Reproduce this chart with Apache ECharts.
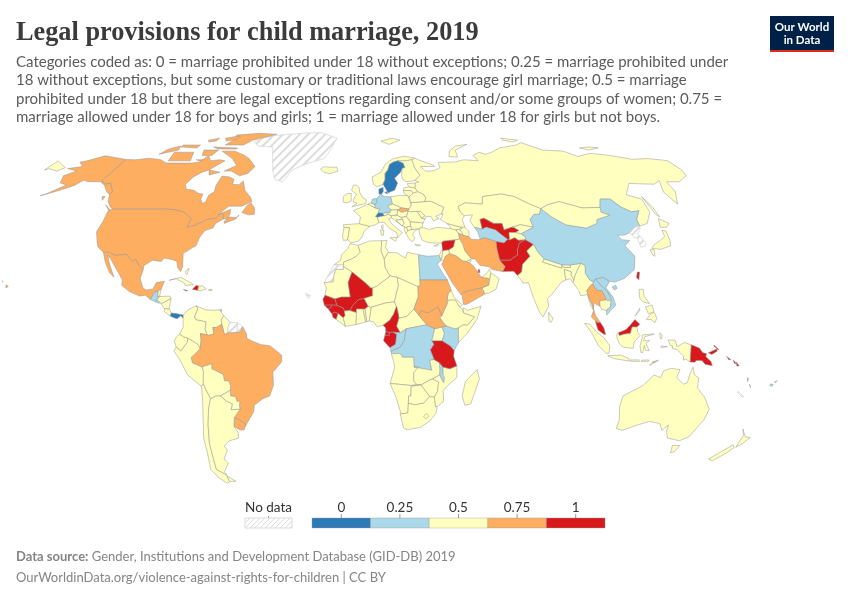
<![CDATA[<!DOCTYPE html>
<html>
<head>
<meta charset="utf-8">
<title>Legal provisions for child marriage, 2019</title>
<script src="https://cdn.jsdelivr.net/npm/echarts@6/dist/echarts.min.js"></script>
<style>
    body { margin: 0; padding: 0; background: #fff; }
    #main { width: 850px; height: 600px; }
</style>
</head>
<body>
<div id="main"></div>
<script type="text/javascript">
// coded values read from the map
var codedZero = ['Sweden', 'Denmark', 'Switzerland', 'Panama'];
var codedQuarter = ['Germany', 'Netherlands', 'China', 'Vietnam', 'Laos', 'Egypt', 'Kenya', 'Democratic Republic of Congo', 'Congo', 'Malawi', 'Turkmenistan', 'Guatemala', 'El Salvador', 'Trinidad and Tobago', 'Fiji'];
var codedThreeQuarter = ['Canada', 'United States', 'Mexico', 'Brazil', 'Uruguay', 'Iran', 'Saudi Arabia', 'Yemen', 'Sudan', 'South Sudan', 'Thailand', 'Slovakia', 'Timor-Leste', 'Vanuatu'];
var codedOne = ['Mali', 'Senegal', 'Guinea-Bissau', 'Guinea', 'Sierra Leone', 'Burkina Faso', 'Cameroon', 'Equatorial Guinea', 'Gabon', 'Tanzania', 'Syria', 'Uzbekistan', 'Afghanistan', 'Pakistan', 'Malaysia', 'Papua New Guinea', 'Solomon Islands', 'Haiti', 'Jamaica', 'Taiwan', 'Qatar'];
var noDataCountries = ['Greenland', 'Western Sahara', 'Suriname', 'French Guiana', 'North Korea', 'South Korea', 'New Caledonia', 'Cape Verde'];

var legendValues = ['0', '0.25', '0.5', '0.75', '1'];
var legendColors = ['#2c7bb6', '#abd9e9', '#ffffbf', '#fdae61', '#d7191c'];

// simplified country outlines, flat lon,lat rings
var outlines = {
 'Greenland': [[-73,78.2,-68,76,-58,75.5,-54,70,-51,65,-48,61,-43,60,-40,65,-32,68,-23,70,-20,75,-18,80,-30,83.5,-40,83.4,-60,82,-68,80.5]],
 'Canada': [[-141,69.6,-135,69.5,-128,70.2,-120,69.5,-115,68,-108,68,-100,68,-96,68.5,-94,71.5,-90,69,-85,69.5,-81.5,69,-85,66.5,-87,65,-90,64,-93,62,-94.5,59,-92.5,57,-88,56.5,-85,55.3,-82.3,55,-82,52.9,-80,51.2,-79,52,-79,54.5,-77,56,-78,58.7,-77.5,62.4,-73,62,-70,61,-69.5,59,-66,58.8,-64.5,60.3,-61.5,56.5,-57,53.5,-55.8,52,-60,50.2,-66.5,50.2,-70,47,-65,49,-64.5,47,-65,46,-61,45.8,-60,46.8,-61,45.2,-66,43.5,-66,44.6,-64.5,45.5,-67,45.2,-67.8,47,-69.2,47.4,-70.5,45.5,-74.7,45,-76.5,44,-79,43.3,-79,42.8,-83,42,-82.5,45.3,-84.5,46.5,-88.5,48.2,-95,49,-123,49,-125,50,-128,52,-130,54.7,-130,56,-135,59.5,-137,59,-141,60.3],
  [-59,47.7,-55.5,46.8,-52.7,47,-53.5,49.5,-56,51.5,-57.5,50.5],[-128,50.8,-123.5,48.4,-125,48.8],[-133,54,-131.5,54,-131.5,52.5],
  [-80,73.5,-72,71.5,-68,70,-62,66.5,-64,63.5,-68,62.5,-74,64.5,-78,64.5,-73,67,-78,70,-88,73.5],[-117,73,-105,73,-102,69,-115,69],[-90,76.5,-78,76.5,-75,79,-65,81.5,-62,82.5,-75,83.1,-90,82,-88,79],[-125,72,-116,74,-118,76,-123,74.5],[-96,75.5,-80,75,-80,74.5,-92,74.5],[-117,75.5,-106,75,-106,76.5,-117,76.5],[-100,74,-91,74,-92,71.5,-98,71.5],[-87,65,-80,64,-85,62.8],[-95,80,-87,81.5,-86,79.5,-92,78.5],[-99,69.5,-95,69.5,-96,68.8],[-105,79,-99,80,-99,78.5,-103,78]],
 'United States': [[-124.7,48.4,-123,49,-95,49,-88.5,48.2,-84.5,46.5,-82.5,45.3,-83,42,-79,42.8,-79,43.3,-76.5,44,-74.7,45,-70.5,45.5,-69.2,47.4,-67.8,47,-67,45.2,-70,43.5,-70.5,41.8,-74,40.7,-75.5,38,-76,35,-78,33.9,-81,32,-80,27,-80.5,25.2,-82,26.5,-83,29,-85,29.7,-89,30.3,-90,29,-94,29.5,-97.2,27.5,-97.2,25.9,-99.5,27.5,-101.5,29.8,-103,29,-104.8,30.5,-106.5,31.8,-108.2,31.5,-111,31.3,-114.8,32.5,-117.1,32.5,-120.5,34.5,-122.5,37.5,-124.3,40.3,-124,44],
  [-141,69.6,-148,70.4,-156.5,71.3,-163,69,-166,68.4,-161,66.5,-168,65.6,-161,64.5,-165,62.5,-162,59.5,-157.5,58.7,-163,55,-165,54.3,-158,56.5,-153,58.5,-151,60.7,-148,60,-141,60,-137,58.5,-133,56,-130,54.7,-130,56,-135,59.5,-137,59,-141,60.3],
  [-155.8,20.2,-154.9,19.5,-155.7,18.95,-156,19.8],[-158.2,21.5,-157.7,21.3,-157.9,21.7]],
 'Mexico': [[-117.1,32.5,-114.8,32.5,-111,31.3,-108.2,31.5,-106.5,31.8,-104.8,30.5,-103,29,-101.5,29.8,-99.5,27.5,-97.2,25.9,-97.8,22.5,-96,19,-94.5,18.2,-91.5,18.6,-90.5,21,-87,21.5,-88,18.5,-89.1,17.9,-91,17.2,-91.4,16,-92.2,14.6,-94.5,16.2,-97,15.9,-101.5,17.5,-105.5,20,-105.5,22,-109,26,-112.8,30,-114.7,31.5,-113,28.5,-110,24,-109.5,23,-112,25,-115,29]],
 'Guatemala': [[-92.2,14.6,-91.4,16,-91,17.2,-89.1,17.9,-89.2,15.9,-88.3,15.7,-89.3,14.4,-90.1,13.8]],
 'Belize': [[-89.1,17.9,-88,18.5,-88.3,15.9,-89.2,15.9]],
 'El Salvador': [[-90.1,13.8,-89.3,14.4,-87.6,13.4,-88.5,13.2]],
 'Honduras': [[-89.3,14.4,-88.3,15.7,-84,15.9,-83.2,15,-85,14,-87.3,13,-87.6,13.4]],
 'Nicaragua': [[-87.3,13,-85,14,-83.2,15,-83.7,11,-85.7,11.1]],
 'Costa Rica': [[-85.7,11.1,-83.7,11,-82.6,9.5,-83,8.3,-85.7,10]],
 'Panama': [[-83,8.3,-82.6,9.5,-80,9.2,-77.4,8.7,-77.4,7.5,-78.5,8.4,-80,7.3,-81.5,7.7]],
 'Cuba': [[-85,21.9,-80,23,-75,20.8,-74.2,20.2,-77.7,19.9,-78,20.7,-82,22.5]],
 'Haiti': [[-74.4,18.4,-72,18.1,-71.7,19.7,-73,19.9]],
 'Dominican Republic': [[-71.7,19.7,-72,18.1,-71,17.8,-68.4,18.6,-70,19.8]],
 'Jamaica': [[-78.3,18.4,-76.3,18,-77,17.8]],
 'Puerto Rico': [[-67.2,18.5,-65.7,18.4,-65.8,18,-67.2,18]],
 'Bahamas': [[-78.5,25,-77,26.5,-77.5,24]],
 'Trinidad and Tobago': [[-61.9,10.7,-61,10.8,-61,10.1,-61.9,10.1]],
 'Iceland': [[-24,65.5,-22,64,-18.5,63.4,-14,64.5,-15,66.2,-19,66.2,-22.5,66.4]],
 'Colombia': [[-77.4,8.7,-75.5,10.7,-72,12.2,-71.3,11,-72.5,8,-72,7,-67.5,6.2,-67.8,3.5,-67,1.2,-69.8,1.7,-69.5,-1,-70,-4.2,-70.8,-2.5,-73.5,-1,-75.2,-0.1,-77,0.4,-78.8,1.4,-77.3,4,-77.4,7.5]],
 'Venezuela': [[-72,12.2,-68,10.7,-64,10.5,-62,10.7,-60,8.5,-61,6.9,-60.7,5.2,-62.9,4,-64.5,4,-64,1.5,-66,1,-67,1.2,-67.8,3.5,-67.5,6.2,-72,7,-72.5,8,-71.3,11]],
 'Guyana': [[-60,8.5,-57.2,6,-58,4,-58,2,-59.5,1.2,-60,3,-60.7,5.2,-61,6.9]],
 'Suriname': [[-57.2,6,-54,5.8,-54,2.2,-56,2,-58,2,-58,4]],
 'French Guiana': [[-54,5.8,-51.7,4.3,-52.8,2.3,-54,2.2]],
 'Brazil': [[-51.7,4.3,-50,1.5,-50,0,-48,-1,-44,-2.5,-40,-2.9,-37,-5,-35,-6.5,-35,-9,-39,-13,-39,-18,-41,-22,-44,-23,-48,-25.5,-48.6,-28,-52,-32,-53.5,-33.7,-53.2,-32.5,-55.8,-30.9,-57.6,-30.2,-54.5,-27,-54.6,-25.6,-54.2,-24,-55.5,-24,-56,-22.2,-58,-22,-58,-19.8,-57.7,-18,-58.3,-16.3,-60.2,-16.2,-60.5,-13.8,-65.3,-11.7,-65.3,-9.8,-69.5,-11,-73.5,-9.5,-74,-7.4,-70,-4.2,-69.5,-1,-69.8,1.7,-67,1.2,-66,1,-64,1.5,-64.5,4,-62.9,4,-60.7,5.2,-60,3,-59.5,1.2,-58,2,-56,2,-54,2.2,-52.8,2.3]],
 'Uruguay': [[-53.5,-33.7,-53.2,-32.5,-55.8,-30.9,-57.6,-30.2,-58.4,-33.5,-56,-34.9,-54,-34.8]],
 'Ecuador': [[-78.8,1.4,-77,0.4,-75.2,-0.1,-75.4,-1.6,-78.3,-5,-80.3,-3.4,-81,-1,-80,0.5]],
 'Peru': [[-80.3,-3.4,-78.3,-5,-75.4,-1.6,-75.2,-0.1,-73.5,-1,-70.8,-2.5,-70,-4.2,-74,-7.4,-73.5,-9.5,-69.5,-11,-69,-12.5,-69.5,-17.5,-70.4,-18.3,-76,-14,-79,-8,-81.3,-5]],
 'Bolivia': [[-69.5,-11,-65.3,-9.8,-65.3,-11.7,-60.5,-13.8,-60.2,-16.2,-58.3,-16.3,-57.7,-18,-58,-19.8,-62.6,-22,-64.5,-22,-67,-23,-68.5,-20,-69.5,-17.5,-69,-12.5]],
 'Paraguay': [[-58,-19.8,-58,-22,-56,-22.2,-55.5,-24,-54.2,-24,-54.6,-25.6,-54.5,-27,-58.5,-27.2,-57.7,-25,-60,-24,-62.6,-22]],
 'Chile': [[-70.4,-18.3,-69.5,-17.5,-68.5,-20,-67,-23,-68.5,-27,-70,-33,-71.5,-40,-72,-46,-72.5,-50,-69,-52,-68.5,-52.7,-68.5,-54.9,-70,-55.5,-73,-53.5,-75.3,-50,-74,-44,-73.5,-38,-71.5,-30,-70.5,-23]],
 'Argentina': [[-67,-23,-64.5,-22,-62.6,-22,-60,-24,-57.7,-25,-58.5,-27.2,-54.5,-27,-57.6,-30.2,-58.4,-33.5,-57,-36,-57.5,-38,-62,-39,-65,-41,-64,-42.5,-67,-46,-65.5,-47.5,-69,-51,-68.5,-52.4,-69,-52,-72.5,-50,-72,-46,-71.5,-40,-70,-33,-68.5,-27],[-68.5,-52.7,-65.2,-54.7,-68.5,-54.9]],
 'Morocco': [[-5.9,35.8,-2.2,35.1,-1.2,32.5,-3,31,-5,30,-8.7,28.7,-8.7,27.7,-13,27.7,-10,29.5,-9.7,31.5,-6.8,34]],
 'Western Sahara': [[-8.7,27.7,-13,27.7,-17,21,-13,21.3,-13,23,-12,26,-8.7,26]],
 'Algeria': [[-2.2,35.1,3,36.8,8.6,36.9,8.2,33,9.5,30,9.9,26.5,12,23.5,5.8,19.5,4.2,19,3.3,19,1.2,20.8,-4.8,25,-8.7,27.1,-8.7,28.7,-5,30,-3,31,-1.2,32.5]],
 'Tunisia': [[8.6,36.9,11,37,10.2,34.3,11.5,32.5,9.5,30,8.2,33]],
 'Libya': [[11.5,32.5,15.2,32.3,19,30.3,20,32.5,25,31.6,25,20,24,19.5,15,23,12,23.5,9.9,26.5,9.5,30]],
 'Egypt': [[25,31.6,29,31,32.5,31.2,34.2,31.3,34.9,29.5,33,28,35.5,24,37,22,25,22]],
 'Mauritania': [[-17,21,-13,21.3,-13,23,-12,26,-8.7,26,-8.7,27.1,-4.8,25,-6.5,21,-5.5,15.5,-9.3,15.5,-12.2,14.8,-16.5,16.2,-16,19]],
 'Mali': [[-4.8,25,1.2,20.8,3.3,19,4.2,19,4.2,16,0.5,15,-2,14.5,-4.5,12.3,-5.5,10.4,-8,10.2,-8.5,11.3,-11.3,12.4,-12.2,14.8,-9.3,15.5,-5.5,15.5,-6.5,21]],
 'Senegal': [[-16.5,16.2,-12.2,14.8,-11.3,12.4,-13.7,12.5,-16.7,12.4,-17.4,14.7]],
 'Guinea-Bissau': [[-16.7,12.4,-13.7,12.5,-13.7,11.7,-15,11]],
 'Guinea': [[-13.7,12.5,-11.3,12.4,-8.5,11.3,-8,10.2,-7.7,8.5,-8.5,7.6,-10.7,9.3,-12.5,9.9,-13.3,9,-15,11,-13.7,11.7]],
 'Sierra Leone': [[-13.3,9,-12.5,9.9,-10.7,9.3,-11.5,7,-13,7.9]],
 'Liberia': [[-11.5,7,-10.7,9.3,-8.5,7.6,-7.5,4.4]],
 "Cote d'Ivoire": [[-8.5,7.6,-7.7,8.5,-8,10.2,-5.5,10.4,-2.8,9.7,-3,5.1,-7.5,4.4]],
 'Burkina Faso': [[-5.5,10.4,-4.5,12.3,-2,14.5,0.5,15,2.3,12,0.9,11,0,11,-2.8,11,-2.8,9.7]],
 'Ghana': [[-2.8,11,0,11,1.2,6.1,-3,5.1,-2.8,9.7]],
 'Togo': [[0,11,0.9,11,1.7,6.2,1.2,6.1]],
 'Benin': [[0.9,11,2.3,12,3.6,11.7,2.7,6.4,1.7,6.2]],
 'Niger': [[4.2,19,5.8,19.5,12,23.5,15,23,15.5,20,13.6,13.7,10,13.3,3.6,11.7,2.3,12,0.5,15,4.2,16]],
 'Nigeria': [[2.7,6.4,3.6,11.7,10,13.3,13.6,13.7,14.5,12,13.2,9,11.5,6.7,8.6,4.8,6,4.3,4.5,6.2]],
 'Chad': [[15,23,24,19.5,24,15.7,22,11,18.9,8.2,15.5,7.5,15,10,14.5,12,13.6,13.7,15.5,20]],
 'Cameroon': [[8.6,4.8,11.5,6.7,13.2,9,14.5,12,15,10,15.5,7.5,14.5,4.5,16.1,2,13,2.2,11.3,2.2,9.8,2.3,9.7,3.9]],
 'Central African Republic': [[14.5,4.5,15.5,7.5,18.9,8.2,22,11,24,8.7,27.4,5,22.5,4.2,18.6,3.5,16.1,2]],
 'Equatorial Guinea': [[9.8,2.3,11.3,2.2,11.3,1,9.4,1]],
 'Gabon': [[9.4,1,11.3,1,11.3,2.2,13,2.2,14.5,1.4,14,-2.4,11.6,-3.7,8.8,-1]],
 'Congo': [[13,2.2,16.1,2,18.6,3.5,17.7,-1,16,-3.5,12,-5,11.6,-3.7,14,-2.4,14.5,1.4]],
 'Democratic Republic of Congo': [[18.6,3.5,22.5,4.2,27.4,5,30.8,3.5,29.6,-1,30.5,-2.4,29,-4.5,30.7,-8.2,28.7,-8.5,29.8,-12.2,27,-11.8,22,-11,21.8,-7.3,17,-7.3,16,-5.9,12.2,-6,12,-5,16,-3.5,17.7,-1]],
 'Angola': [[12.2,-6,16,-5.9,17,-7.3,21.8,-7.3,22,-11,24,-11,22,-13,22,-16.2,23.4,-17.6,21,-18,13.9,-17.4,11.8,-17.3,13.7,-11,13.2,-9]],
 'Zambia': [[22,-11,27,-11.8,29.8,-12.2,28.7,-8.5,30.7,-8.2,33,-9.4,33.3,-12,33.2,-14,30.2,-15.5,28.8,-16,25.3,-17.8,23.4,-17.6,22,-16.2,22,-13,24,-11]],
 'Namibia': [[11.8,-17.3,13.9,-17.4,21,-18,25.3,-17.8,21,-18.3,21,-22,20,-22,20,-28.4,17,-28.8,14.5,-22.5]],
 'Botswana': [[21,-18.3,25.3,-17.8,29.3,-22.2,26.8,-24.7,23,-25.3,20,-24.8,20,-22,21,-22]],
 'Zimbabwe': [[25.3,-17.8,28.8,-16,30.2,-15.5,32.9,-16.7,32.5,-20.5,31.3,-22.4,29.3,-22.2]],
 'Malawi': [[33,-9.4,34.5,-11,34.7,-14,35.3,-15,35.2,-17,34.3,-16,33.2,-14,33.3,-12]],
 'Mozambique': [[40.5,-10.5,40.7,-15,36.9,-18,35,-20,35.5,-24,32.8,-26,32,-26,31.3,-22.4,32.5,-20.5,32.9,-16.7,30.2,-15.5,33.2,-14,34.3,-16,35.2,-17,35.3,-15,34.7,-14,34.5,-11,37.5,-11.7]],
 'South Africa': [[16.5,-28.7,17,-28.8,20,-28.4,20,-24.8,23,-25.3,26.8,-24.7,29.3,-22.2,31.3,-22.4,32,-26,32.8,-26,32.5,-28.5,30,-31.5,26,-33.9,20,-34.8,18.3,-34,17,-30]],
 'Lesotho': [[27,-29.6,28.5,-28.6,29.4,-29.7,28,-30.6]],
 'Tanzania': [[29.6,-1,34,-1,37.6,-3,39.2,-4.7,39,-7,40.5,-10.5,37.5,-11.7,34.5,-11,33,-9.4,30.7,-8.2,29,-4.5,30.5,-2.4]],
 'Uganda': [[30.8,3.5,34,4.2,35,1.7,34,-1,29.6,-1]],
 'Kenya': [[34,4.2,36,4.5,39.5,3.5,41,3.9,41,-1.7,39.2,-4.7,37.6,-3,34,-1,35,1.7]],
 'Somalia': [[41,-1.7,41,3.9,43,5,45,5,48,8,43.3,9.5,43.2,11.5,45,10.5,51,12,49,7,45,2]],
 'Ethiopia': [[36,4.5,39.5,3.5,41,3.9,43,5,45,5,48,8,43.3,9.5,42.8,11,41.7,11.8,40,14.5,37,14.4,36.4,13,35,10.5,34,8.5,33,7.8,35,5.2]],
 'Eritrea': [[36.4,14,37,14.4,40,14.5,41.7,11.8,43,12.5,39.5,15.5,38.5,18,37,17]],
 'South Sudan': [[24,8.7,27.4,5,30.8,3.5,34,4.2,36,4.5,35,5.2,33,7.8,34,8.5,33,10.5,32.5,12,28,9.5,25,10.5]],
 'Sudan': [[24,19.5,25,20,25,22,37,22,38.5,18,37,17,36.4,14,36.4,13,35,10.5,34,8.5,33,10.5,32.5,12,28,9.5,25,10.5,24,8.7,22,11,24,15.7]],
 'Madagascar': [[49.3,-12,50.5,-15.5,47.5,-25,45,-25.5,43.5,-22,44.5,-16.5]],
 'Cape Verde': [[-25,17,-24.5,16,-23.5,15,-22.7,16]],
 'Portugal': [[-9,41.9,-6.3,41.9,-7,37.2,-9,37,-9.5,38.7]],
 'Spain': [[-9.3,43,-1.8,43.4,3.2,42.4,0.5,40.5,-0.3,38.5,-2,36.8,-5.5,36,-7,37.2,-6.3,41.9,-9,41.9]],
 'France': [[-1.8,43.4,3.2,42.4,6,43,7.5,43.8,7,45.9,6.1,46.2,7.5,47.6,8.2,49,6,49.5,2.5,51,-1.5,49.5,-4.7,48.5,-1.2,46],[8.6,42.5,9.5,43,9.4,41.4,8.8,41.6]],
 'Switzerland': [[6.1,46.2,7,45.9,10.4,46.5,9.6,47.5,7.5,47.6]],
 'Italy': [[7,45.9,7.5,43.8,10,44,12.5,41.5,15.7,40,16,38,17,39,18.5,40,16,41.5,13.5,43.5,12.3,45.3,13.7,45.6,13.7,46.5,12.2,47,10.4,46.5],[12.5,38,15.6,38.2,15,36.7],[8.2,41,9.7,41,9.5,39,8.5,39]],
 'United Kingdom': [[-5.5,50,1.3,51.2,1.7,52.7,0,53.5,-1.8,55.8,-2,57.6,-3.5,58.6,-5,58.6,-6,56.5,-3.3,54.9,-4.5,53.3,-5,51.8,-3,51.4]],
 'Ireland': [[-6,52.2,-6,54,-6,55.2,-8.2,55.2,-10,54,-10,51.8,-8,51.5]],
 'Belgium': [[2.5,51,4,51.4,6,50.8,6,49.5]],
 'Netherlands': [[4,51.4,4.8,53,7,53.3,7,51.8,6,50.8]],
 'Germany': [[7,53.3,9,54.9,11,54,14.2,53.9,14.7,51,12.2,50.3,13.8,48.7,13,47.5,9.6,47.5,7.5,47.6,8.2,49,6,49.5,6,50.8,7,51.8]],
 'Denmark': [[8.2,55,8.3,57,10.6,57.7,10.5,56,9.5,54.9,9,54.9],[11.2,55.7,12.5,56,12.5,55]],
 'Norway': [[5,62,5.5,59,7.5,58,10.7,59,12,61,12.3,63.5,14,65,15.5,67.5,18,68.5,20.5,69,25,69,29,69.5,31,70.2,25,71.1,18,70,13,67.5,10,64],[12,78.5,20,80,25,79,17,76.8]],
 'Sweden': [[10.7,59,13,55.4,14.5,56,16.5,56.5,18.5,59.5,17.2,61.5,21,64,22.5,65.8,24,66,23.5,68,20.5,69,18,68.5,15.5,67.5,14,65,12.3,63.5,12,61]],
 'Finland': [[24,66,22.5,65.8,21.3,63,21.5,61,23,60,28,60.5,31.5,62.7,29.5,66,29,69.5,25,69,20.5,69,23.5,68]],
 'Poland': [[14.2,53.9,19,54.5,23,54.3,24,50.5,22.6,49.1,19,49.5,14.7,51]],
 'Czechia': [[12.2,50.3,14.7,51,19,49.5,17,48.7,13.8,48.7]],
 'Slovakia': [[17,48.7,19,49.5,22.6,49.1,22.2,48.4,18.8,47.8]],
 'Austria': [[9.6,47.5,13,47.5,13.8,48.7,17,48.7,16.5,46.9,16.5,46.6,13.7,46.5,12.2,47,10.4,46.5]],
 'Hungary': [[16.5,46.9,17,48.7,18.8,47.8,22.2,48.4,21,46.2,18.5,45.8,16.5,46.6]],
 'Croatia': [[13.7,45.6,13.7,46.5,16.5,46.6,18.5,45.8,19,45,15.8,44.8,18.5,42.5,14.8,45]],
 'Bosnia and Herzegovina': [[15.8,44.8,19,45,19.5,43.5,18.5,42.5]],
 'Serbia': [[19,45,18.5,45.8,21,46.2,22.5,44.2,22.5,42.5,20.5,42,18.5,42.5,19.5,43.5]],
 'Albania': [[19.4,42,20.5,42,21,40.5,20,39.7,19.3,41]],
 'North Macedonia': [[20.5,42,22.5,42.5,23,41.2,21,40.7]],
 'Greece': [[21,40.7,23,41.2,26.3,41.5,24,40.5,23,39,24,38,22.8,36.5,21.2,37.5,20,39.7],[23.6,35.5,26.2,35.2,24.5,34.9]],
 'Bulgaria': [[22.5,44.2,28.6,43.7,27.8,42,26.3,41.5,23,41.2,22.5,42.5]],
 'Romania': [[21,46.2,22.2,48.4,22.9,48,26.5,48.2,28.2,45.5,29.7,45.2,28.6,43.7,22.5,44.2]],
 'Moldova': [[26.5,48.2,28,48.2,30,46.4,28.2,45.5]],
 'Ukraine': [[24,50.5,24,51.6,31,52,34,52.2,40,49.7,38,47.1,35,46.2,36.5,45.3,33.5,44.5,33,46,30.7,46.3,29.7,45.2,28.2,45.5,30,46.4,28,48.2,26.5,48.2,22.9,48,22.2,48.4,22.6,49.1]],
 'Belarus': [[24,51.6,23.5,53.9,26,55.5,28.3,56,31,55,32,53.5,31,52]],
 'Lithuania': [[21,55.3,21,56.4,25,56.4,26,55.5,23.5,53.9,23,54.3]],
 'Latvia': [[21,56.4,21.5,57.5,24.4,57.9,27.4,57.5,28.3,56,26,55.5,25,56.4]],
 'Estonia': [[23.5,59.2,28,59.5,27.4,57.5,24.4,57.9]],
 'Turkey': [[26.3,41.5,28,42,31,41.2,35,42,41.5,41.5,43.5,41,44.5,39.7,44.5,37.5,42.3,37.2,36.7,36.7,36,36,32.5,36,30,36.2,27.3,37,26.3,39.5]],
 'Cyprus': [[32.3,35,34.5,35.6,33.5,34.7]],
 'Russia': [[31,70.2,33,69.4,41,67,41,66.5,33,66.5,35,64.5,38,64.5,40,64.7,44,66,44,68.3,54,68.5,60,69.5,68,69,67,71.5,72,73,75,72,80,73,87,75,100,76.5,105,77.7,113,74,125,73.5,130,71,140,72.5,150,71.5,160,69.7,170,70,178,69.3,180,69,180,65,178,62.5,170,60,163,60,162,56,156.7,51,155.6,56,160,60.5,155,59,142,59.3,135,54.7,141,53,140,48,135,43.5,130.7,42.5,131,45,135,48.4,131,48,127.5,49.8,125,53,120,53,117,49.7,108,49.5,98.5,52,92,50.8,87.5,49.2,83,51,77,54,71,55,61,54,59.5,51,51,51.5,47,50,47.5,48,49,46.5,47.5,45,48,42,46,42,40,43.4,37,45,39,47.2,38,47.1,40,49.7,34,52.2,31,52,32,53.5,31,55,28.3,56,27.4,57.5,28,59.5,30,60,28,60.5,31.5,62.7,29.5,66,29,69.5],
  [-180,69,-175,67.5,-170,66,-172,64.5,-178,65.5,-180,65],[142,54,143,50,143,46,142,47],[52,71,57,70.7,58,74,68,76.8,60,76,54,73.5],[95,80,105,79,100,78,95,79],[138,75,145,75.5,150,75,142,74]],
 'Georgia': [[40,43.4,46,42,46.5,41.5,45.2,41.2,43.5,41,41.5,41.5]],
 'Azerbaijan': [[46,42,48,42,49.5,40.5,49,38.4,46.5,38.9,46,40,45.2,41.2,46.5,41.5]],
 'Armenia': [[43.5,41,45.2,41.2,46,40,46.5,38.9,44.5,39.7]],
 'Kazakhstan': [[47,50,51,51.5,59.5,51,61,54,71,55,77,54,83,51,87.5,49.2,85.5,47,83,47,80,45,80.3,42,74.5,43,70,42,66,41,66,43.5,62,43.5,58,45.5,56,45,56,41.3,52.5,42,51,44.5,53,46.8,49,46.5,47.5,48]],
 'Uzbekistan': [[56,45,58,45.5,62,43.5,66,43.5,66,41,70,42,71,42,73,40.8,71,40,68,40,67.5,37.2,66.5,37.4,62,41,58,42,56,41.3]],
 'Turkmenistan': [[52.5,42,56,41.3,58,42,62,41,66.5,37.4,64.5,36,61,36.6,56,38,54,37.4,53.5,40]],
 'Kyrgyzstan': [[70,42,74.5,43,80.3,42,76,40.5,73.5,39.5,71,40,73,40.8,71,42]],
 'Tajikistan': [[68,40,71,40,73.5,39.5,75,38.5,74.8,37.3,71.5,37,70,38,67.5,37.2]],
 'Afghanistan': [[61,36.6,64.5,36,66.5,37.4,67.5,37.2,70,38,71.5,37,74.8,37.3,71.5,36,70,33.5,69.5,31.5,66.5,30,66,29.5,61,29.5,60.7,33,60.7,35]],
 'Pakistan': [[74.8,37.3,77.8,35.5,74,33,75,31,71,28,70,25,68,23.7,66.5,25.3,61.6,25.2,63,27,61,29.5,66,29.5,66.5,30,69.5,31.5,70,33.5,71.5,36]],
 'Iran': [[44.5,39.7,46.5,38.9,49,38.4,50,37.4,54,37.4,56,38,61,36.6,60.7,35,60.7,33,61,29.5,63,27,61.6,25.2,57,26,56,27,52,27.5,50,30,48.5,30,46,33,45.5,35.5,44.5,37.5]],
 'Iraq': [[42.3,37.2,44.5,37.5,45.5,35.5,46,33,48.5,30,47.5,29.5,46,29,44.5,29.2,42,31,39,32,38.7,33.4,41,34.5]],
 'Syria': [[36,36,36.7,36.7,42.3,37.2,41,34.5,38.7,33.4,36,33]],
 'Israel': [[34.2,31.3,35.5,33.2,36,33,35.5,31,34.9,29.5]],
 'Jordan': [[36,33,38.7,33.4,39,32,37,31,36,29.3,34.9,29.5,35.5,31]],
 'Saudi Arabia': [[36,29.3,37,31,39,32,42,31,44.5,29.2,46,29,47.5,28.5,48.8,27.5,50,26,51,24.5,52,23,55,22.7,55.5,22,55,20,52,19,49,18.5,44,17.4,43,16.5,42.5,16.5,39,21,37,24.5,35,28]],
 'Kuwait': [[46,29,47.5,29.5,48.3,29.5,47.5,28.5]],
 'Yemen': [[43,16.5,44,17.4,49,18.5,52,19,53,16.7,45,12.8,43.5,12.7]],
 'Oman': [[52,19,55,20,55.5,22,56.3,24.8,59.8,22.5,58,18.5,55,17.2,53,16.7]],
 'United Arab Emirates': [[52,23,55,22.7,55.5,22,56.3,24.8,56,26,54,24.2]],
 'Qatar': [[50.8,24.8,51.6,24.8,51.5,26,51,26]],
 'India': [[74,33,77.8,35.5,79,32.5,81,30,80,28.8,88,26.5,88.5,27.8,89,26.7,92,26.8,92,27.7,97,28.3,95,26,93.5,24,92.5,22,91.5,24,92,25,89,26,89,22,87,21.3,82,16.5,80,15,80.2,12,77.5,8,76,10,74,15,72.8,19.5,72.5,21,70,20.8,69,22.5,68,23.7,70,25,71,28,75,31]],
 'Nepal': [[80,28.8,81,30,88.2,27.8,88,26.5]],
 'Bhutan': [[89,26.7,88.5,27.8,92,27.7,92,26.8]],
 'Bangladesh': [[89,26,92,25,91.5,24,92.5,22,92,21,91,22.5,89,22]],
 'Sri Lanka': [[80,9.7,81.8,7.5,81,6,80,6.2]],
 'Myanmar': [[92,21,94,18,94.5,16,97.5,16.5,98.5,12,99.5,10.5,99,13,98,15,97.5,18,99.5,20,100.5,20.4,101,21.3,99.5,22,98,24.5,98.7,27.5,97,28.3,95,26,93.5,24,92.5,22]],
 'Thailand': [[97.5,18,98,15,99,13,99.5,10.5,98.3,8,100,6.5,101,5.7,102,6,100.2,8.5,99.5,11,100,13.5,101,12.7,102.5,12,102.5,14,105.5,14.5,105,16,104,18,102,18,101,19.5,100.5,20.4,99.5,20]],
 'Laos': [[101,21.3,102,22.4,104,20,106.5,17.5,107.5,15,106,14,105.5,14.5,105,16,104,18,102,18,101,19.5,100.5,20.4]],
 'Cambodia': [[102.5,12,102.5,14,105.5,14.5,106,14,107.5,14.5,107,12,105,10.5,103,10.8]],
 'Vietnam': [[102,22.4,105.5,23,108,21.5,106,19,108.5,15.5,109.3,12.5,107,10.5,105,8.7,105,10.5,107,12,107.5,14.5,107.5,15,106.5,17.5,104,20]],
 'China': [[73.5,39.5,76,40.5,80.3,42,80,45,83,47,85.5,47,87.5,49.2,91,46,96,43,105,41.7,111,43.5,112,45,119.5,46.7,116,47.8,117,49.7,120,53,125,53,127.5,49.8,131,48,135,48.4,131,45,130.7,42.5,128,42,124.4,40,121,39,118,39,119,37.3,122.5,37,119.3,35,122,31,120,26,115,22.7,110.5,21.2,108,21.5,105.5,23,102,22.4,101,21.3,99.5,22,98,24.5,98.7,27.5,97,28.3,92,27.7,88.5,27.8,88.2,27.8,81,30,79,32.5,77.8,35.5,74.8,37.3,75,38.5],[108.7,19.3,110.5,20,110.8,18.8,109.5,18.2]],
 'Taiwan': [[121,25,122,25,121,22,120.2,23]],
 'Mongolia': [[87.5,49.2,92,50.8,98.5,52,108,49.5,117,49.7,116,47.8,119.5,46.7,112,45,111,43.5,105,41.7,96,43,91,46]],
 'North Korea': [[124.4,40,128,42,130.7,42.5,129.7,41,127.5,39.5,128.3,38.6,126.7,38,125,38]],
 'South Korea': [[126.7,38,128.3,38.6,129.4,36,128.5,34.8,126.3,34.5,126.5,37.5]],
 'Japan': [[131,34,135,33.6,140,35,141,37,141.5,40.5,140,41,139.5,38.5,136.5,37,133,35.5],[140,42,141.8,45.4,145.3,43.5,143,42],[130,33.5,131.8,33.5,131,31,130.2,31.5]],
 'Philippines': [[120.3,18.4,122.2,18.5,122,16,124,13,121,13.8,120,15],[122,7,123.5,8.7,125.5,9.8,126.5,7.5,125.5,5.8,124,7],[122,11.8,125,12.5,125.5,10,123,9.2],[117.2,8.4,119.5,11.3,119.3,10.3]],
 'Malaysia': [[100,6.5,101,5.7,102,6,103.4,4,104.2,1.4,103.4,1.4,101,3,100.3,5],[109.6,2,111.3,2.6,113,3.2,115,5,117,7,119,5.2,117.7,4.2,115.7,4.2,114.8,1.7,112.5,1.5,110,0.9]],
 'Indonesia': [[109,1.5,109.6,2,110,0.9,112.5,1.5,114.8,1.7,115.7,4.2,117.7,4.2,118,2,119,1,116.5,-1.5,116,-4,111.5,-3.4,110,-2,109,0],[95.3,5.6,97.5,5.2,100.5,2.2,103.5,0,106,-3,105.8,-5.8,104.5,-5.8,101,-2.8,98.5,1.5],[105.3,-6.7,108.5,-6.6,111,-6.5,114.5,-7.8,114.5,-8.7,108,-7.8],[120,1.2,125,1.5,121,0.5,120.5,-1,123,-1,121.5,-2,123,-4.8,121.5,-4.7,120.8,-2.8,120.3,-5.5,119.5,-5.5,119,-3,119.8,0],[115,-8.3,119,-8.3,119,-8.9,115,-8.8],[120,-8.4,123,-8.3,123,-8.8,120,-8.9],[123.5,-10.3,125,-9,125.2,-9.5,124,-10.3],[127.5,2,128.5,1,128,-0.5,127.5,0.5],[128,-3,130.8,-3.3,128,-3.6],[131,-0.8,134,-0.8,135,-3.3,138,-1.7,141,-2.6,141,-9.1,139,-8,138,-8.4,138,-7,135,-4.4,132.8,-4,133,-3,132,-2.8]],
 'Timor-Leste': [[125,-9,127.3,-8.4,125.2,-9.5]],
 'Papua New Guinea': [[141,-2.6,144.5,-3.8,146,-5.5,147.8,-6,147.5,-7,150,-9,150.7,-10.5,147.5,-10,146,-8.5,143.5,-8.5,143,-9.2,141,-9.1],[148.5,-5.6,152,-4.2,152.2,-5,150,-6.3],[150.8,-2.7,153,-4.5,152.5,-4.5,150.7,-3]],
 'Solomon Islands': [[156.5,-7,158.5,-8.2,157.5,-8.2],[159.5,-8.3,161,-9.8,160,-9.6],[160.8,-9,162.3,-10.6,161.3,-10.6]],
 'Vanuatu': [[166.7,-15,167.3,-15.5,167,-16.5],[168.2,-17.5,169,-18.8,168.7,-18.8]],
 'Fiji': [[177.3,-17.4,178.6,-17.6,178.3,-18.3,177.3,-18.1],[178.8,-16.6,180,-16.2,179.3,-17]],
 'New Caledonia': [[164,-20.2,167,-22.3,166.4,-22.4,164,-20.7]],
 'Australia': [[114,-22,113.5,-26,115,-31,115,-34.3,118,-35,124,-33,129,-31.6,134,-32.5,136,-35,138,-33,138.5,-35.5,140.5,-38,144,-38.5,146.5,-39,150,-37.5,153,-31,153.5,-27,150,-22.5,146,-19,145.5,-15,143.5,-14,142.5,-11,141.5,-14,141,-17,139.5,-17.5,136,-15,137,-12,133,-11.5,130,-12.5,129,-15,126,-14,122,-18,118,-20],[144.7,-40.8,148.2,-40.8,147.5,-43.3,146,-43.5]],
 'New Zealand': [[172.7,-34.5,176,-37.5,178.5,-37.7,176.8,-40,175,-41.5,174.7,-39,174.8,-37],[172.8,-40.5,174.3,-41.5,172.8,-43.7,171,-45,169,-46.7,166.5,-46,169,-43.8]]
};

// Robinson projection table, every 5 degrees
var robinsonLen = [1,.9986,.9954,.99,.9822,.973,.96,.9427,.9216,.8962,.8679,.835,.7986,.7597,.7186,.6732,.6213,.5722,.5322];
var robinsonDepth = [0,.062,.124,.186,.248,.31,.372,.434,.4958,.5571,.6176,.6769,.7346,.7903,.8435,.8936,.9394,.9761,1];
var mapCenterX = 363, mapEquatorY = 338, pxPerDegree = 2.33, mapDepth = 212.7;

function lerpTable(table, lat) {
    var a = Math.min(Math.abs(lat), 89.999) / 5;
    var i = Math.floor(a);
    return table[i] + (table[i + 1] - table[i]) * (a - i);
}
var robinson = {
    project: function (p) {
        var sign = p[1] < 0 ? -1 : 1;
        return [mapCenterX + pxPerDegree * lerpTable(robinsonLen, p[1]) * p[0],
                mapEquatorY - sign * mapDepth * lerpTable(robinsonDepth, p[1])];
    },
    // the map is silent, nothing reads this back
    unproject: function (p) {
        return [0, 0];
    }
};

// hatch for no data, as a library decal
var noDataDecal = { symbol: 'rect', symbolSize: 1, dashArrayX: [1, 0], dashArrayY: [1.2, 3.2], rotation: -Math.PI / 4, color: '#dcdcdc' };

function codedValue(name) {
    if (codedZero.indexOf(name) >= 0) return 0;
    if (codedQuarter.indexOf(name) >= 0) return 0.25;
    if (codedThreeQuarter.indexOf(name) >= 0) return 0.75;
    if (codedOne.indexOf(name) >= 0) return 1;
    return 0.5;
}

// rings lying wholly north of 72 go to their own map series
function newLayer() {
    return { features: [], data: [], minX: 1e9, minY: 1e9, maxX: -1e9, maxY: -1e9 };
}
var mainLayer = newLayer(), arcticLayer = newLayer();
Object.keys(outlines).forEach(function (name) {
    outlines[name].forEach(function (flat, r) {
        var ring = [], partName = r ? name + ' ' + r : name, southMost = 90;
        for (var i = 0; i < flat.length; i += 2) {
            ring.push([flat[i], flat[i + 1]]);
            southMost = Math.min(southMost, flat[i + 1]);
        }
        ring.push([flat[0], flat[1]]);
        var layer = (southMost >= 72 && name !== 'Greenland') ? arcticLayer : mainLayer;
        ring.forEach(function (pt) {
            var xy = robinson.project(pt);
            layer.minX = Math.min(layer.minX, xy[0]); layer.maxX = Math.max(layer.maxX, xy[0]);
            layer.minY = Math.min(layer.minY, xy[1]); layer.maxY = Math.max(layer.maxY, xy[1]);
        });
        layer.features.push({ type: 'Feature', properties: { name: partName }, geometry: { type: 'Polygon', coordinates: [ring] } });
        if (noDataCountries.indexOf(name) >= 0) {
            layer.data.push({ name: partName, value: -1, itemStyle: { areaColor: '#fff', borderColor: '#d8d8d8', decal: noDataDecal } });
        } else {
            var v = codedValue(name);
            layer.data.push({ name: partName, value: v, itemStyle: { areaColor: legendColors[v * 4] } });
        }
    });
});
echarts.registerMap('worldMain', { type: 'FeatureCollection', features: mainLayer.features });
echarts.registerMap('worldArctic', { type: 'FeatureCollection', features: arcticLayer.features });

function mapSeries(mapName, layer, zlevel) {
    return {
        type: 'map',
        map: mapName,
        projection: robinson,
        roam: false,
        silent: true,
        selectedMode: false,
        zlevel: zlevel,
        left: layer.minX, top: layer.minY, width: layer.maxX - layer.minX, height: layer.maxY - layer.minY,
        label: { show: false },
        emphasis: { disabled: true },
        itemStyle: { borderColor: '#949494', borderWidth: 0.5, areaColor: '#ffffbf' },
        data: layer.data
    };
}

// legend, footer and text blocks
var bodyFont = 'Lato, "Noto Sans", sans-serif';
var subtitleLines = [
    'Categories coded as: 0 = marriage prohibited under 18 without exceptions; 0.25 = marriage prohibited under',
    '18 without exceptions, but some customary or traditional laws encourage girl marriage; 0.5 = marriage',
    'prohibited under 18 but there are legal exceptions regarding consent and/or some groups of women; 0.75 =',
    'marriage allowed under 18 for boys and girls; 1 = marriage allowed under 18 for girls but not boys.'
];
var graphics = [];
// logo
graphics.push({ type: 'rect', shape: { x: 770, y: 16, width: 64, height: 36 }, style: { fill: '#002147' } });
graphics.push({ type: 'rect', shape: { x: 770, y: 50, width: 64, height: 2 }, style: { fill: '#dc2e1c' } });
graphics.push({ type: 'text', x: 802, y: 21, style: { text: 'Our World\nin Data', font: 'bold 11.5px ' + bodyFont, fill: '#fff', align: 'center', lineHeight: 13 } });
// legend
var legendLeft = 312, legendStep = 58.6, legendTop = 518, legendH = 10;
graphics.push({ type: 'text', x: 268.5, y: 501, style: { text: 'No data', font: '13.5px ' + bodyFont, fill: '#333', align: 'center' } });
graphics.push({ type: 'line', shape: { x1: 268.5, y1: 516, x2: 268.5, y2: 518 }, style: { stroke: '#999', lineWidth: 1 } });
graphics.push({ type: 'rect', shape: { x: 245, y: legendTop, width: 47, height: legendH }, style: { fill: '#fff', stroke: '#ccc', lineWidth: 0.7 } });
for (var h = 0; h < 47 + legendH; h += 5) {
    var x0 = Math.max(0, h - legendH), x1 = Math.min(47, h);
    graphics.push({ type: 'line', shape: { x1: 245 + x0, y1: legendTop + legendH - (x0 - h + legendH), x2: 245 + x1, y2: legendTop + legendH - (x1 - h + legendH) }, style: { stroke: '#dcdcdc', lineWidth: 1 } });
}
legendValues.forEach(function (label, i) {
    var cx = legendLeft + legendStep * (i + 0.5);
    graphics.push({ type: 'rect', shape: { x: legendLeft + legendStep * i, y: legendTop, width: legendStep, height: legendH }, style: { fill: legendColors[i], stroke: '#999', lineWidth: 0.4 } });
    graphics.push({ type: 'line', shape: { x1: cx, y1: 514, x2: cx, y2: 518 }, style: { stroke: '#999', lineWidth: 1 } });
    graphics.push({ type: 'text', x: cx, y: 501, style: { text: label, font: '13.5px ' + bodyFont, fill: '#333', align: 'center' } });
});
// footer
graphics.push({ type: 'text', left: 16, top: 550, style: {
    text: '{b|Data source:} Gender, Institutions and Development Database (GID-DB) 2019',
    font: '13px ' + bodyFont, fill: '#858585',
    rich: { b: { font: 'bold 13px ' + bodyFont, fill: '#858585' } }
} });
graphics.push({ type: 'text', left: 16, top: 571, style: { text: 'OurWorldinData.org/violence-against-rights-for-children | CC BY', font: '13px ' + bodyFont, fill: '#858585' } });

var chart = echarts.init(document.getElementById('main'));
chart.setOption({
    animation: false,
    aria: { enabled: false, decal: { show: true } },
    title: [{
        text: 'Legal provisions for child marriage, 2019',
        left: 11, top: 15,
        textStyle: { fontFamily: '"Liberation Serif", serif', fontWeight: 'bold', fontSize: 26.3, color: '#3b3b3b' }
    }, {
        text: subtitleLines.join('\n'),
        left: 11, top: 48,
        textStyle: { fontFamily: 'Lato, "Noto Sans", sans-serif', fontWeight: 'normal', fontSize: 15, lineHeight: 18.4, color: '#5b5b5b' }
    }],
    graphic: graphics,
    series: [mapSeries('worldMain', mainLayer, 0), mapSeries('worldArctic', arcticLayer, 1)]
});
</script>
</body>
</html>
]]>
